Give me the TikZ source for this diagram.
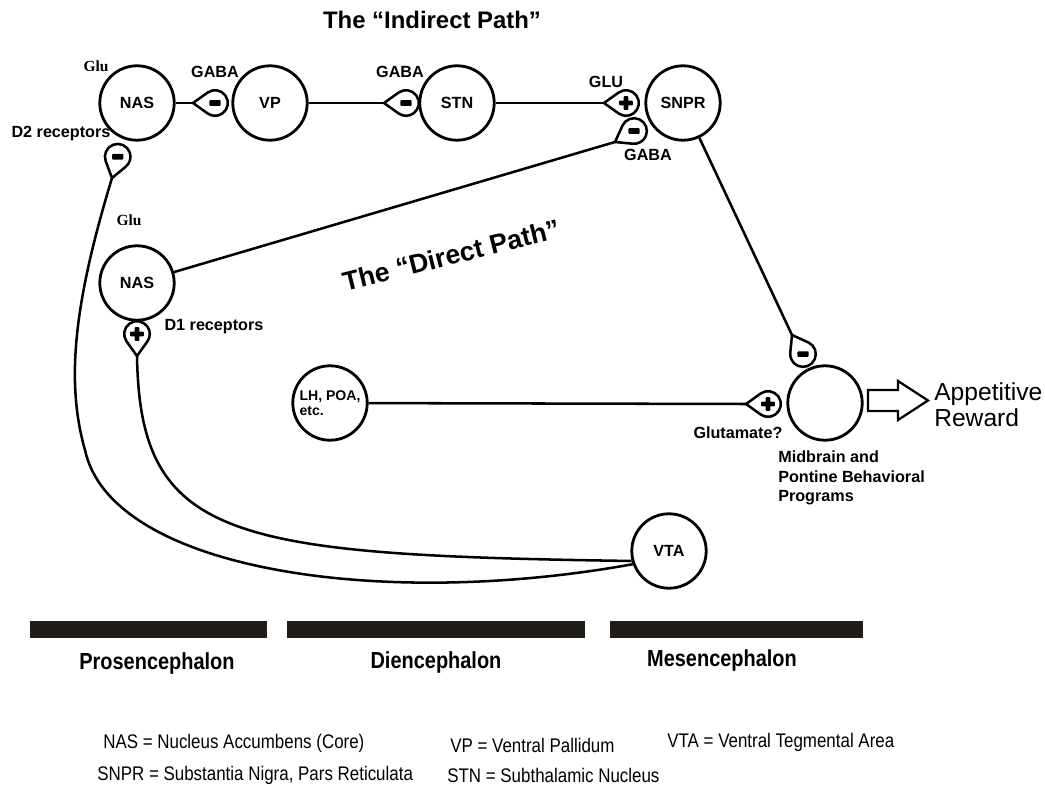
\documentclass[tikz,border=0pt]{standalone}
\usepackage{fontspec}
\setmainfont{Liberation Serif}
\setsansfont{Liberation Sans}
\newfontfamily\narrowsf[FakeStretch=0.86]{Liberation Sans}

\definecolor{barink}{RGB}{32,29,24}

\tikzset{
  nucleus/.style={draw, circle, line width=2pt, minimum size=1.86cm, inner sep=0pt,
    font=\sffamily\bfseries\fontsize{11.5}{13}\selectfont},
  axon/.style={line width=1.8pt, line join=round},
  lbl/.style={font=\sffamily\bfseries\fontsize{11.5}{13.9}\selectfont, inner sep=0pt},
  glu/.style={font=\rmfamily\bfseries\fontsize{11}{13}\selectfont, inner sep=0pt},
  pathtitle/.style={font=\sffamily\bfseries\fontsize{17}{20}\selectfont, inner sep=0pt},
  region/.style={font=\narrowsf\bfseries\fontsize{16.5}{19}\selectfont, inner sep=0pt},
  legend/.style={font=\narrowsf\fontsize{14}{16}\selectfont, inner sep=0pt, anchor=west},
  signbar/.style={fill=black, rounded corners=0.6pt, inner sep=0pt},
  pics/inhib/.style={code={
    \draw[axon, fill=white] (0,0) -- (0.364cm,0.26cm)
      arc[start angle=125.6, end angle=-125.6, radius=0.32cm] -- cycle;
    \node[signbar, minimum width=0.28cm, minimum height=0.14cm] at (0.55cm,0) {};
  }},
  pics/excit/.style={code={
    \draw[axon, fill=white] (0,0) -- (0.364cm,0.26cm)
      arc[start angle=125.6, end angle=-125.6, radius=0.32cm] -- cycle;
    \node[signbar, minimum width=0.34cm, minimum height=0.12cm] at (0.55cm,0) {};
    \node[signbar, minimum width=0.12cm, minimum height=0.34cm] at (0.55cm,0) {};
  }},
}

\begin{document}
\begin{tikzpicture}[x=0.025cm, y=-0.025cm]
  \useasboundingbox (0,0) rectangle (1045,786);

  % nuclei
  \node[nucleus] (nasA) at (137,103) {NAS};
  \node[nucleus] (vp) at (270,103) {VP};
  \node[nucleus] (stn) at (457,103) {STN};
  \node[nucleus] (snpr) at (683,103) {SNPR};
  \node[nucleus] (nasB) at (137,283) {NAS};
  \node[nucleus, align=left, font=\sffamily\bfseries\fontsize{10}{11}\selectfont] (lh) at (330,403) {LH, POA,\\etc.};
  \node[nucleus] (mid) at (825,403) {};
  \node[nucleus] (vta) at (669,551) {VTA};

  % terminal tips
  \coordinate (tVP) at (193,103);
  \coordinate (tSTN) at (384,103);
  \coordinate (tSNPRa) at (604,103);
  \coordinate (tSNPRb) at (615,142);
  \coordinate (tD2) at (112,178);
  \coordinate (tD1) at (137,356);
  \coordinate (tMidA) at (792,335);
  \coordinate (tMidB) at (746,404);

  % axons
  \draw[axon] (nasA) -- (tVP);
  \draw[axon] (vp) -- (tSTN);
  \draw[axon] (stn) -- (tSNPRa);
  \draw[axon] (nasB) -- (tSNPRb);
  \draw[axon] (snpr) -- (tMidA);
  \draw[axon] (lh) -- (tMidB);
  \draw[axon] (tD2) .. controls (75,300) and (65,380) .. (85,450)
    .. controls (111,570) and (380,610) .. (vta.200);
  \draw[axon] (tD1) .. controls (140,540) and (230,555) .. (vta.195);

  % synapses
  \pic at (tVP) {inhib};
  \pic at (tSTN) {inhib};
  \pic at (tSNPRa) {excit};
  \pic[rotate=30] at (tSNPRb) {inhib};
  \pic[rotate=75] at (tD2) {inhib};
  \pic[rotate=90] at (tD1) {excit};
  \pic[rotate=-60] at (tMidA) {inhib};
  \pic at (tMidB) {excit};

  % transmitter and receptor labels
  \node[glu] (gluA) at (96,66) {Glu};
  \node[lbl] (gabaA) at (215,72) {GABA};
  \node[lbl] (gabaB) at (400,72) {GABA};
  \node[lbl] (gluB) at (606,82) {GLU};
  \node[lbl] (gabaC) at (648,155) {GABA};
  \node[lbl] (dTwo) at (61,134) {D2 receptors};
  \node[glu] (gluC) at (129,220) {Glu};
  \node[lbl] (dOne) at (214,327) {D1 receptors};
  \node[lbl] (glut) at (738,433) {Glutamate?};
  \node[lbl, align=left, anchor=west] (prog) at (778,478) {Midbrain and\\Pontine Behavioral\\Programs};

  % output arrow
  \draw[line width=1.6pt, line join=miter] (868,390) -- (898,390) -- (898,381) -- (928,400.5)
    -- (898,420) -- (898,411) -- (868,411) -- cycle;
  \node[font=\sffamily\fontsize{17.5}{18.5}\selectfont, align=left, anchor=west, inner sep=0pt] (reward) at (934,405) {Appetitive\\Reward};

  % path titles
  \node[pathtitle] (indirect) at (432,20) {The “Indirect Path”};
  \node[pathtitle, rotate=14, font=\sffamily\bfseries\fontsize{19}{22}\selectfont] (direct) at (451,255) {The “Direct Path”};

  % brain divisions
  \fill[barink] (30,621) rectangle (267,638);
  \fill[barink] (287,621) rectangle (585,638);
  \fill[barink] (610,621) rectangle (863,638);
  \node[region] (pros) at (157,663) {Prosencephalon};
  \node[region] (dien) at (436,662) {Diencephalon};
  \node[region] (mes) at (722,660) {Mesencephalon};

  % abbreviations
  \node[legend] (kNAS) at (103,743) {NAS = Nucleus Accumbens (Core)};
  \node[legend] (kVP) at (450,745) {VP = Ventral Pallidum};
  \node[legend] (kVTA) at (667,742) {VTA = Ventral Tegmental Area};
  \node[legend] (kSNPR) at (97,775) {SNPR = Substantia Nigra, Pars Reticulata};
  \node[legend] (kSTN) at (447,775) {STN = Subthalamic Nucleus};
\end{tikzpicture}
\end{document}
